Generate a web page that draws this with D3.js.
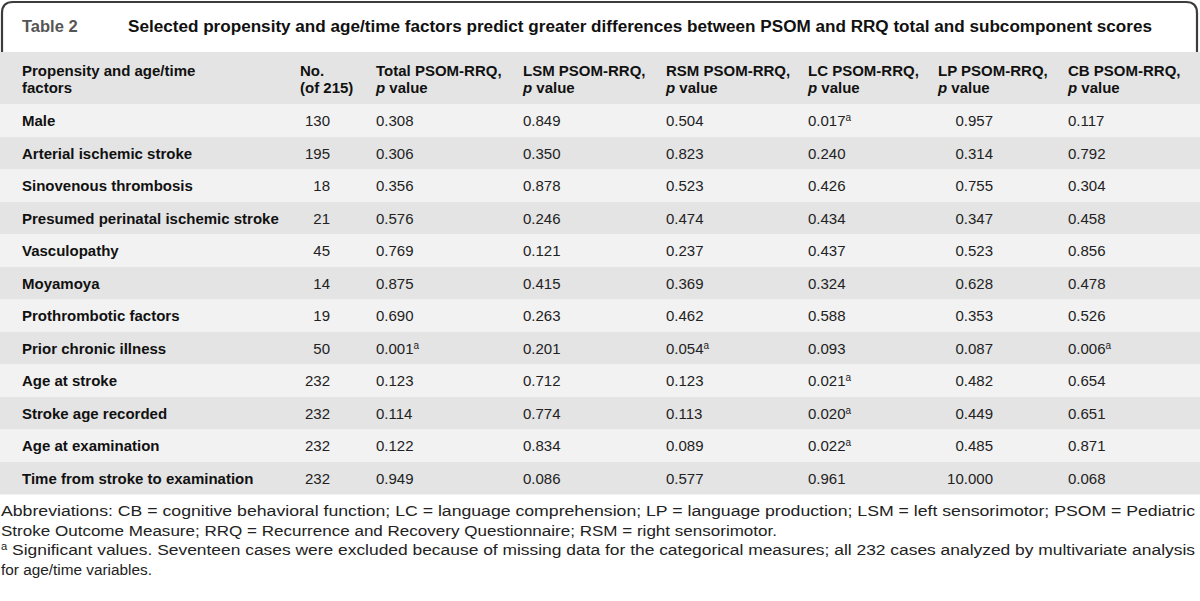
<!DOCTYPE html>
<html><head><meta charset="utf-8">
<script src="https://cdn.jsdelivr.net/npm/d3@7/dist/d3.min.js"></script>
<style>
html,body{margin:0;padding:0;background:#fff;}
svg{display:block;font-family:"Liberation Sans",Arial,sans-serif;}
</style></head>
<body>
<svg id="chart" width="1200" height="601"></svg>
<script>
// ---- data ----
const tableLabel = "Table 2";
const title = "Selected propensity and age/time factors predict greater differences between PSOM and RRQ total and subcomponent scores";
const headers = [
  ["Propensity and age/time", "factors"],
  ["No.", "(of 215)"],
  ["Total PSOM-RRQ,", "p value"],
  ["LSM PSOM-RRQ,", "p value"],
  ["RSM PSOM-RRQ,", "p value"],
  ["LC PSOM-RRQ,", "p value"],
  ["LP PSOM-RRQ,", "p value"],
  ["CB PSOM-RRQ,", "p value"]
];
const factors = ["Male","Arterial ischemic stroke","Sinovenous thrombosis","Presumed perinatal ischemic stroke","Vasculopathy","Moyamoya","Prothrombotic factors","Prior chronic illness","Age at stroke","Stroke age recorded","Age at examination","Time from stroke to examination"];
const counts = [130,195,18,21,45,14,19,50,232,232,232,232];
const totalP = [0.308,0.306,0.356,0.576,0.769,0.875,0.690,0.001,0.123,0.114,0.122,0.949];
const lsmP   = [0.849,0.350,0.878,0.246,0.121,0.415,0.263,0.201,0.712,0.774,0.834,0.086];
const rsmP   = [0.504,0.823,0.523,0.474,0.237,0.369,0.462,0.054,0.123,0.113,0.089,0.577];
const lcP    = [0.017,0.240,0.426,0.434,0.437,0.324,0.588,0.093,0.021,0.020,0.022,0.961];
const lpP    = [0.957,0.314,0.755,0.347,0.523,0.628,0.353,0.087,0.482,0.449,0.485,10.000];
const cbP    = [0.117,0.792,0.304,0.458,0.856,0.478,0.526,0.006,0.654,0.651,0.871,0.068];
// significant cells flagged "a" (row indices per column)
const totalSig = [7];
const lsmSig = [];
const rsmSig = [7];
const lcSig = [0,8,9,10];
const lpSig = [];
const cbSig = [7];
const footnotes = [
  "Abbreviations: CB = cognitive behavioral function; LC = language comprehension; LP = language production; LSM = left sensorimotor; PSOM = Pediatric",
  "Stroke Outcome Measure; RRQ = Recurrence and Recovery Questionnaire; RSM = right sensorimotor.",
  "\u00AA Significant values. Seventeen cases were excluded because of missing data for the categorical measures; all 232 cases analyzed by multivariate analysis",
  "for age/time variables."
];

// ---- layout ----
const W = 1200;
const svg = d3.select("#chart");
const colX = [22, 300, 376, 523, 666, 808, 938, 1068];
const headTop = 52, headBottom = 104.5;
const rowScale = d3.scaleBand().domain(d3.range(factors.length)).range([headBottom, headBottom + 32.5*factors.length]).padding(0);

// title box
const bx0 = 2, bx1 = 1197, by0 = 2, byb = headTop, r = 11;
svg.append("path")
  .attr("d", `M${bx0},${byb} L${bx0},${by0+r} Q${bx0},${by0} ${bx0+r},${by0} L${bx1-r},${by0} Q${bx1},${by0} ${bx1},${by0+r} L${bx1},${byb}`)
  .attr("fill","none").attr("stroke","#3c3c3c").attr("stroke-width",2.2);
svg.append("text").attr("x",22).attr("y",32).attr("fill","#555").attr("font-weight","bold").attr("font-size",16.5).text(tableLabel);
svg.append("text").attr("x",128).attr("y",32).attr("fill","#111").attr("font-weight","bold").attr("font-size",16)
  .attr("textLength",1024).attr("lengthAdjust","spacingAndGlyphs").text(title);

// header row
svg.append("rect").attr("x",0).attr("y",headTop).attr("width",W).attr("height",headBottom-headTop).attr("fill","#e4e4e4");
headers.forEach((h,i)=>{
  h.forEach((line,j)=>{
    const t = svg.append("text").attr("x",colX[i]).attr("y",76 + j*16.5).attr("font-size",15).attr("font-weight","bold").attr("fill","#111");
    if (line.startsWith("p value")) {
      t.append("tspan").attr("font-style","italic").text("p");
      t.append("tspan").text(" value");
    } else t.text(line);
  });
});

// body rows
const fmt = d3.format(".3f");
const cols = [
  {vals: totalP, sig: totalSig, x: colX[2], anchor: "start"},
  {vals: lsmP, sig: lsmSig, x: colX[3], anchor: "start"},
  {vals: rsmP, sig: rsmSig, x: colX[4], anchor: "start"},
  {vals: lcP, sig: lcSig, x: colX[5], anchor: "start"},
  {vals: lpP, sig: lpSig, x: 993, anchor: "end"},
  {vals: cbP, sig: cbSig, x: colX[7], anchor: "start"}
];
const rows = svg.selectAll("g.row").data(factors).join("g").attr("class","row")
  .attr("transform",(d,i)=>`translate(0,${rowScale(i)})`);
rows.append("rect").attr("x",0).attr("y",0).attr("width",W).attr("height",rowScale.bandwidth())
  .attr("fill",(d,i)=> i%2===0 ? "#f2f2f2" : "#e4e4e4");
const baseY = 21.5;
rows.append("text").attr("x",colX[0]).attr("y",baseY).attr("font-size",15).attr("font-weight","bold").attr("fill","#111").text(d=>d);
rows.append("text").attr("x",330).attr("y",baseY).attr("text-anchor","end").attr("font-size",15).attr("fill","#222").text((d,i)=>counts[i]);
cols.forEach(c=>{
  rows.each(function(d,i){
    const t = d3.select(this).append("text").attr("x",c.x).attr("y",baseY).attr("text-anchor",c.anchor).attr("font-size",15).attr("fill","#222");
    t.append("tspan").text(fmt(c.vals[i]));
    if (c.sig.includes(i)) t.append("tspan").attr("font-size",10).attr("dy",-5).text("a");
  });
});

// footnotes
const fnY = [516, 536, 555, 575];
const fnLen = [1194, 776, 1194, 151];
footnotes.forEach((f,i)=>{
  const t = svg.append("text").attr("x",1).attr("y",fnY[i]).attr("font-size",15.5).attr("fill","#222");
  if (f.startsWith("\u00AA")) {
    t.append("tspan").attr("font-size",10).attr("dy",-5).text("a");
    t.append("tspan").attr("dy",5).text(f.slice(1));
  } else t.text(f);
  if (fnLen[i]) t.attr("textLength",fnLen[i]).attr("lengthAdjust","spacingAndGlyphs");
});
</script>
</body></html>
